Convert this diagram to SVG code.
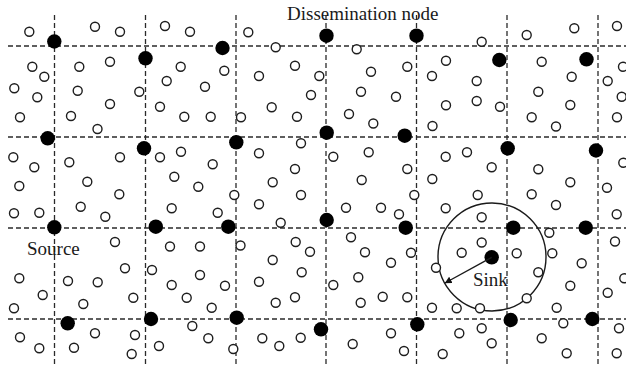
<svg xmlns="http://www.w3.org/2000/svg" width="626" height="366" viewBox="0 0 626 366">
<defs>
<style>
.grid line{stroke:#2a2a2a;stroke-width:1.3;stroke-dasharray:5 3;fill:none}
.s{fill:#fff;stroke:#1e1e1e;stroke-width:1.4}
.d{fill:#000}
.lbl{font-family:"Liberation Serif","Times New Roman",serif;font-size:19px;fill:#1a1a1a}
.conn{stroke:#1a1a1a;stroke-width:1.4;fill:none}
</style>
<marker id="ah" viewBox="0 0 10 10" refX="9.5" refY="5" markerWidth="7" markerHeight="7" markerUnits="userSpaceOnUse" orient="auto">
<path d="M0,0 L10,5 L0,10 z" fill="#111"/>
</marker>
</defs>
<rect width="626" height="366" fill="#fff"/>
<g id="grid" class="grid">
<line x1="8" y1="46" x2="626" y2="46"/>
<line x1="8" y1="137" x2="626" y2="137"/>
<line x1="8" y1="228" x2="626" y2="228"/>
<line x1="8" y1="319" x2="626" y2="319"/>
<line x1="54.5" y1="15" x2="54.5" y2="364"/>
<line x1="145.5" y1="15" x2="145.5" y2="364"/>
<line x1="236" y1="15" x2="236" y2="364"/>
<line x1="326" y1="15" x2="326" y2="364"/>
<line x1="416.5" y1="15" x2="416.5" y2="364"/>
<line x1="507" y1="15" x2="507" y2="364"/>
<line x1="598" y1="15" x2="598" y2="364"/>
</g>
<g id="range">
<circle cx="492" cy="257" r="54" class="conn"/>
</g>
<g id="sensors">
<circle class="s" cx="29.3" cy="31.7" r="4.5"/>
<circle class="s" cx="95" cy="26.7" r="4.5"/>
<circle class="s" cx="120" cy="31.7" r="4.5"/>
<circle class="s" cx="32.3" cy="66.7" r="4.5"/>
<circle class="s" cx="44.3" cy="76.7" r="4.5"/>
<circle class="s" cx="79.3" cy="66.7" r="4.5"/>
<circle class="s" cx="110" cy="61.7" r="4.5"/>
<circle class="s" cx="14.3" cy="88.3" r="4.5"/>
<circle class="s" cx="37.3" cy="97.3" r="4.5"/>
<circle class="s" cx="77.7" cy="90.7" r="4.5"/>
<circle class="s" cx="139.3" cy="91.7" r="4.5"/>
<circle class="s" cx="110" cy="104" r="4.5"/>
<circle class="s" cx="160" cy="106.7" r="4.5"/>
<circle class="s" cx="20" cy="117.3" r="4.5"/>
<circle class="s" cx="71" cy="116" r="4.5"/>
<circle class="s" cx="97.5" cy="129" r="4.5"/>
<circle class="s" cx="165" cy="26" r="4.5"/>
<circle class="s" cx="190" cy="31.7" r="4.5"/>
<circle class="s" cx="248.3" cy="32.3" r="4.5"/>
<circle class="s" cx="275.7" cy="47.3" r="4.5"/>
<circle class="s" cx="180.7" cy="66.7" r="4.5"/>
<circle class="s" cx="224.3" cy="70.7" r="4.5"/>
<circle class="s" cx="259" cy="76" r="4.5"/>
<circle class="s" cx="295" cy="65.7" r="4.5"/>
<circle class="s" cx="166.7" cy="81" r="4.5"/>
<circle class="s" cx="205" cy="86.7" r="4.5"/>
<circle class="s" cx="311" cy="95" r="4.5"/>
<circle class="s" cx="184.3" cy="116.7" r="4.5"/>
<circle class="s" cx="210.7" cy="116.7" r="4.5"/>
<circle class="s" cx="241" cy="117.3" r="4.5"/>
<circle class="s" cx="271.7" cy="107.3" r="4.5"/>
<circle class="s" cx="297" cy="116.7" r="4.5"/>
<circle class="s" cx="356.7" cy="49.3" r="4.5"/>
<circle class="s" cx="319.3" cy="76" r="4.5"/>
<circle class="s" cx="371" cy="71.7" r="4.5"/>
<circle class="s" cx="407.3" cy="66.7" r="4.5"/>
<circle class="s" cx="446" cy="60.7" r="4.5"/>
<circle class="s" cx="432" cy="76" r="4.5"/>
<circle class="s" cx="361" cy="91.7" r="4.5"/>
<circle class="s" cx="396" cy="96.7" r="4.5"/>
<circle class="s" cx="446" cy="105.3" r="4.5"/>
<circle class="s" cx="349" cy="114" r="4.5"/>
<circle class="s" cx="373.3" cy="123.5" r="4.5"/>
<circle class="s" cx="432.5" cy="126" r="4.5"/>
<circle class="s" cx="481.7" cy="41.7" r="4.5"/>
<circle class="s" cx="526.7" cy="35" r="4.5"/>
<circle class="s" cx="574.3" cy="28.3" r="4.5"/>
<circle class="s" cx="617" cy="26" r="4.5"/>
<circle class="s" cx="541.7" cy="61.7" r="4.5"/>
<circle class="s" cx="623" cy="66.7" r="4.5"/>
<circle class="s" cx="476.7" cy="81" r="4.5"/>
<circle class="s" cx="571.7" cy="76.7" r="4.5"/>
<circle class="s" cx="607.7" cy="81" r="4.5"/>
<circle class="s" cx="538.3" cy="91.7" r="4.5"/>
<circle class="s" cx="476.7" cy="101" r="4.5"/>
<circle class="s" cx="500" cy="106.7" r="4.5"/>
<circle class="s" cx="570.3" cy="105" r="4.5"/>
<circle class="s" cx="621.7" cy="96.7" r="4.5"/>
<circle class="s" cx="531.7" cy="117.3" r="4.5"/>
<circle class="s" cx="556" cy="126.5" r="4.5"/>
<circle class="s" cx="617" cy="117.3" r="4.5"/>
<circle class="s" cx="13.3" cy="157.3" r="4.5"/>
<circle class="s" cx="34.3" cy="167.3" r="4.5"/>
<circle class="s" cx="69.3" cy="162.3" r="4.5"/>
<circle class="s" cx="120" cy="157.3" r="4.5"/>
<circle class="s" cx="160" cy="157.3" r="4.5"/>
<circle class="s" cx="19.3" cy="186" r="4.5"/>
<circle class="s" cx="87.3" cy="181.7" r="4.5"/>
<circle class="s" cx="119.3" cy="194.3" r="4.5"/>
<circle class="s" cx="14" cy="213.3" r="4.5"/>
<circle class="s" cx="39.3" cy="212.7" r="4.5"/>
<circle class="s" cx="80.7" cy="206.7" r="4.5"/>
<circle class="s" cx="105.3" cy="216.7" r="4.5"/>
<circle class="s" cx="115" cy="242" r="4.5"/>
<circle class="s" cx="181" cy="151.7" r="4.5"/>
<circle class="s" cx="212.7" cy="164.3" r="4.5"/>
<circle class="s" cx="174.3" cy="176.7" r="4.5"/>
<circle class="s" cx="198.3" cy="186.7" r="4.5"/>
<circle class="s" cx="234.3" cy="195" r="4.5"/>
<circle class="s" cx="259" cy="153.3" r="4.5"/>
<circle class="s" cx="301" cy="143.3" r="4.5"/>
<circle class="s" cx="295" cy="169" r="4.5"/>
<circle class="s" cx="272.7" cy="182.3" r="4.5"/>
<circle class="s" cx="301" cy="195" r="4.5"/>
<circle class="s" cx="171.7" cy="208.3" r="4.5"/>
<circle class="s" cx="217.7" cy="212.7" r="4.5"/>
<circle class="s" cx="259" cy="204.3" r="4.5"/>
<circle class="s" cx="280.7" cy="222.7" r="4.5"/>
<circle class="s" cx="170" cy="246.5" r="4.5"/>
<circle class="s" cx="200" cy="246.5" r="4.5"/>
<circle class="s" cx="240.5" cy="245.5" r="4.5"/>
<circle class="s" cx="295.7" cy="242" r="4.5"/>
<circle class="s" cx="333.3" cy="156.7" r="4.5"/>
<circle class="s" cx="368.7" cy="152.3" r="4.5"/>
<circle class="s" cx="407.3" cy="169" r="4.5"/>
<circle class="s" cx="445.7" cy="156.7" r="4.5"/>
<circle class="s" cx="467" cy="152.3" r="4.5"/>
<circle class="s" cx="361.7" cy="180" r="4.5"/>
<circle class="s" cx="432.3" cy="179" r="4.5"/>
<circle class="s" cx="414.3" cy="195" r="4.5"/>
<circle class="s" cx="346" cy="207.7" r="4.5"/>
<circle class="s" cx="381" cy="207.7" r="4.5"/>
<circle class="s" cx="399" cy="214.3" r="4.5"/>
<circle class="s" cx="445.7" cy="208.3" r="4.5"/>
<circle class="s" cx="351" cy="237.3" r="4.5"/>
<circle class="s" cx="491.7" cy="167.3" r="4.5"/>
<circle class="s" cx="538.3" cy="169.3" r="4.5"/>
<circle class="s" cx="570.3" cy="182.3" r="4.5"/>
<circle class="s" cx="623.3" cy="162.7" r="4.5"/>
<circle class="s" cx="607" cy="187.7" r="4.5"/>
<circle class="s" cx="477.7" cy="195" r="4.5"/>
<circle class="s" cx="531.7" cy="194.3" r="4.5"/>
<circle class="s" cx="556" cy="205" r="4.5"/>
<circle class="s" cx="481.7" cy="217.3" r="4.5"/>
<circle class="s" cx="616.7" cy="214.3" r="4.5"/>
<circle class="s" cx="549.3" cy="232.7" r="4.5"/>
<circle class="s" cx="481.7" cy="242.5" r="4.5"/>
<circle class="s" cx="615" cy="241.5" r="4.5"/>
<circle class="s" cx="19.3" cy="278.3" r="4.5"/>
<circle class="s" cx="42.7" cy="295" r="4.5"/>
<circle class="s" cx="14" cy="308.3" r="4.5"/>
<circle class="s" cx="68" cy="281" r="4.5"/>
<circle class="s" cx="97.7" cy="282.3" r="4.5"/>
<circle class="s" cx="83.3" cy="304" r="4.5"/>
<circle class="s" cx="125" cy="268.3" r="4.5"/>
<circle class="s" cx="152" cy="270" r="4.5"/>
<circle class="s" cx="133.3" cy="297.7" r="4.5"/>
<circle class="s" cx="20" cy="337.3" r="4.5"/>
<circle class="s" cx="39.3" cy="348.3" r="4.5"/>
<circle class="s" cx="74" cy="347.7" r="4.5"/>
<circle class="s" cx="95" cy="333.3" r="4.5"/>
<circle class="s" cx="135" cy="335" r="4.5"/>
<circle class="s" cx="131.7" cy="354" r="4.5"/>
<circle class="s" cx="159" cy="346" r="4.5"/>
<circle class="s" cx="310" cy="251.7" r="4.5"/>
<circle class="s" cx="200" cy="275" r="4.5"/>
<circle class="s" cx="171.7" cy="285" r="4.5"/>
<circle class="s" cx="225" cy="285.7" r="4.5"/>
<circle class="s" cx="186.7" cy="297.7" r="4.5"/>
<circle class="s" cx="211.7" cy="307.7" r="4.5"/>
<circle class="s" cx="272.7" cy="260" r="4.5"/>
<circle class="s" cx="301.7" cy="272.3" r="4.5"/>
<circle class="s" cx="259" cy="281.7" r="4.5"/>
<circle class="s" cx="275.7" cy="302.7" r="4.5"/>
<circle class="s" cx="295" cy="297.3" r="4.5"/>
<circle class="s" cx="192.3" cy="326" r="4.5"/>
<circle class="s" cx="208.3" cy="338.3" r="4.5"/>
<circle class="s" cx="233.3" cy="349" r="4.5"/>
<circle class="s" cx="262.3" cy="338.3" r="4.5"/>
<circle class="s" cx="279.3" cy="346" r="4.5"/>
<circle class="s" cx="300.7" cy="337.7" r="4.5"/>
<circle class="s" cx="365" cy="252.3" r="4.5"/>
<circle class="s" cx="391" cy="262.7" r="4.5"/>
<circle class="s" cx="411" cy="252.7" r="4.5"/>
<circle class="s" cx="461.7" cy="252.7" r="4.5"/>
<circle class="s" cx="436" cy="267.7" r="4.5"/>
<circle class="s" cx="333.3" cy="285" r="4.5"/>
<circle class="s" cx="358.3" cy="277.3" r="4.5"/>
<circle class="s" cx="360.7" cy="302.7" r="4.5"/>
<circle class="s" cx="382.7" cy="296.7" r="4.5"/>
<circle class="s" cx="407.3" cy="297.3" r="4.5"/>
<circle class="s" cx="432" cy="307.7" r="4.5"/>
<circle class="s" cx="456.7" cy="308.3" r="4.5"/>
<circle class="s" cx="391" cy="333.3" r="4.5"/>
<circle class="s" cx="352.7" cy="344" r="4.5"/>
<circle class="s" cx="404" cy="351" r="4.5"/>
<circle class="s" cx="442.7" cy="354" r="4.5"/>
<circle class="s" cx="459.3" cy="333.3" r="4.5"/>
<circle class="s" cx="516.7" cy="253.3" r="4.5"/>
<circle class="s" cx="552.3" cy="253.3" r="4.5"/>
<circle class="s" cx="581.7" cy="263.3" r="4.5"/>
<circle class="s" cx="538.3" cy="272.3" r="4.5"/>
<circle class="s" cx="570.3" cy="285.7" r="4.5"/>
<circle class="s" cx="526.7" cy="298.3" r="4.5"/>
<circle class="s" cx="607.7" cy="292.7" r="4.5"/>
<circle class="s" cx="624.3" cy="278.3" r="4.5"/>
<circle class="s" cx="556.7" cy="307.7" r="4.5"/>
<circle class="s" cx="480" cy="308.3" r="4.5"/>
<circle class="s" cx="481.7" cy="328.3" r="4.5"/>
<circle class="s" cx="491.7" cy="343.3" r="4.5"/>
<circle class="s" cx="563.3" cy="323.3" r="4.5"/>
<circle class="s" cx="541.7" cy="338.3" r="4.5"/>
<circle class="s" cx="566.7" cy="353.3" r="4.5"/>
<circle class="s" cx="619" cy="328.3" r="4.5"/>
<circle class="s" cx="616.7" cy="353.3" r="4.5"/>
</g>
<g id="dissemination-nodes">
<circle class="d" cx="54.3" cy="41.5" r="7.2"/>
<circle class="d" cx="145.5" cy="58.3" r="7.2"/>
<circle class="d" cx="222.5" cy="48" r="7.2"/>
<circle class="d" cx="326.5" cy="35.7" r="7.2"/>
<circle class="d" cx="416.5" cy="35.7" r="7.2"/>
<circle class="d" cx="499.3" cy="60" r="7.2"/>
<circle class="d" cx="586.5" cy="59.3" r="7.2"/>
<circle class="d" cx="47.7" cy="138.3" r="7.2"/>
<circle class="d" cx="144" cy="148.3" r="7.2"/>
<circle class="d" cx="236.3" cy="142.3" r="7.2"/>
<circle class="d" cx="326.7" cy="132.7" r="7.2"/>
<circle class="d" cx="404.7" cy="135.7" r="7.2"/>
<circle class="d" cx="507.7" cy="148.3" r="7.2"/>
<circle class="d" cx="596" cy="150.5" r="7.2"/>
<circle class="d" cx="155.8" cy="226.7" r="7.2"/>
<circle class="d" cx="228.3" cy="226.7" r="7.2"/>
<circle class="d" cx="326.7" cy="220" r="7.2"/>
<circle class="d" cx="405.7" cy="227.7" r="7.2"/>
<circle class="d" cx="513.3" cy="227.7" r="7.2"/>
<circle class="d" cx="585.7" cy="227.7" r="7.2"/>
<circle class="d" cx="67.7" cy="323.3" r="7.2"/>
<circle class="d" cx="151" cy="319" r="7.2"/>
<circle class="d" cx="236.7" cy="317.7" r="7.2"/>
<circle class="d" cx="321" cy="329.3" r="7.2"/>
<circle class="d" cx="417.3" cy="324.3" r="7.2"/>
<circle class="d" cx="510.7" cy="320" r="7.2"/>
<circle class="d" cx="592.3" cy="319" r="7.2"/>
</g>
<g id="source">
<circle class="d" cx="54.3" cy="227.3" r="7.2"/>
<text class="lbl" x="27" y="255">Source</text>
</g>
<g id="sink">
<circle class="d" cx="491.7" cy="257.3" r="7.2"/>
<text class="lbl" x="473" y="286">Sink</text>
</g>
<g id="connectors">
<line class="conn" x1="491.7" y1="257.3" x2="445" y2="283" marker-end="url(#ah)"/>
</g>
<g id="label-dissemination">
<text class="lbl" x="287" y="20">Dissemination node</text>
</g>
</svg>
